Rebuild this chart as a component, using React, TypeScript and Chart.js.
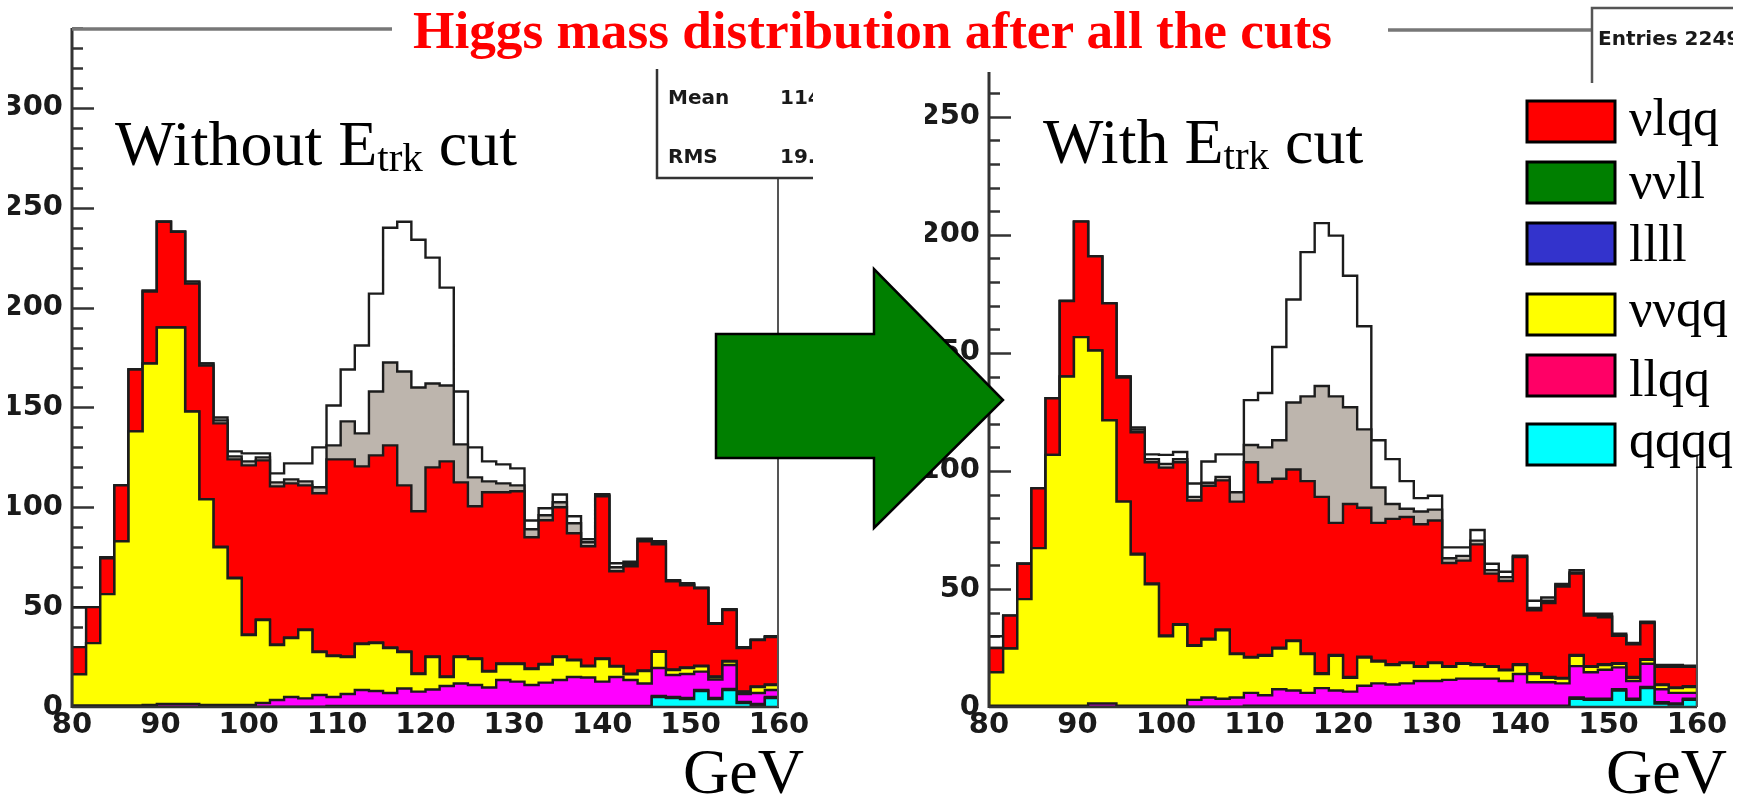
import React, { useEffect, useRef } from "react";
import { Chart, registerables } from "chart.js";
Chart.register(...registerables);

// ---------------- data ----------------
const X_MIN = 80;
const X_MAX = 160;
const BIN_WIDTH = 1.6; // 50 bins between 80 and 160 GeV
const xTickValues = [80, 90, 100, 110, 120, 130, 140, 150, 160];
const leftYTickValues = [0, 50, 100, 150, 200, 250, 300];
const rightYTickValues = [0, 50, 100, 150, 200, 250];

// Left panel: without E_trk cut (events per bin, per process)
const L_qqqq = [0,0,0,0,0,0,0,0,0,0, 0,0,0,0,0,0,0,0,0,0, 0,0,0,0,0,0,0,0,0,0, 0,0,0,0,0,0,0,0,0,0, 0,5,4.5,4,8,4,8.5,2,1,4.5];
const L_llll = [0,0,0,0,0,0,0,0,0,0, 0,0,0,0,0,0,0,0,0.5,0.5, 0.5,0.5,0.5,0.5,0.5,0.5,0.5,0.5,0.5,0.5, 0.5,0.5,0.5,0.5,0.5,0.5,0.5,0.5,0.5,0.5, 0.5,0.5,0.5,0.5,0.5,0.5,0.5,0.5,0.5,0.5];
const L_llqq = [0.8,0.8,0.8,0.8,0.8,1,1.5,1.5,1.5,1, 1,1,1,2,3.5,5,4.3,6,4.5,6, 8,7.5,6.5,8.8,7.2,8.3,10,11.3,10.5,9.3, 13,12.2,10.5,11.7,13,14.5,14.3,12.2,14.5,13, 11.3,14,11,12,9.2,9.3,12,4,5.5,3.5];
const L_vvqq = [15.6,31.2,55.7,82.2,137.2,171,188.5,188.5,146.5,103, 79,63.5,35,41.5,27.5,29.5,34.2,21.5,20.5,18.5, 23,24,22.5,18.2,8.8,16.2,4.5,13.2,13,8, 8,8.8,8,9.1,11.5,8.4,5.6,11.3,5.3,2.9, 6.2,8.1,2.5,3,2.7,1.2,1.8,1,3,2.5];
const L_vvll = [0,0,0,0,0,0,0,0,0,0, 0.3,0.3,0.3,0.3,0.3,0.3,0.3,0.3,0.3,0.3, 0.3,0.3,0.3,0.3,0.3,0.3,0.3,0.3,0.3,0.3, 0.3,0.3,0.3,0.3,0.3,0.3,0.3,0.3,0.3,0.3, 0.3,0.3,0.3,0.3,0.3,0.3,0.3,0.3,0.3,0.3];
const L_vlqq = [13.6,18,18,28,31,36,53,48,64,67, 61.7,59.2,84.7,79.7,79.2,77.2,72.2,79.2,98.2,98.7, 88.7,93.7,101.2,83.2,81.2,94.7,107.7,87.2,76.2,89.4, 85.7,86.2,65.7,71.9,74.7,63.3,59.8,81.2,47.4,53.8, 64.7,53.6,44.2,41.2,38.8,26.4,25.4,21.7,23.2,23.7];
const L_other = [0,0,0,0,0,0.5,0,0,1,1, 1.5,1.5,2,1.5,2,2,2,3,7,19, 16.5,32,41.5,57,62,42,38,19,14.5,5.5, 4.5,3,4,2.5,2.5,5,2,0.5,2,1, 1,1,0.3,0.5,0.1,0,0.2,0.2,0,0.2];
const L_signal = [20,0,0.5,0,0,0,0,0,0,0, 1.5,2.5,4,2,4.5,8,9,20,20,26, 44,49,67.5,75,74,63,49,26.5,15,10, 9.5,8.5,4.4,3.5,3.9,3.5,1.5,0.5,2,1.2, 0.3,0.5,0.2,0.5,0.1,0.3,0.3,0.3,0.3,0.3];

// Right panel: with E_trk cut
const R_qqqq = [0,0,0,0,0,0,0,0,0,0, 0,0,0,0,0,0,0,0,0,0, 0,0,0,0,0,0,0,0,0,0, 0,0,0,0,0,0,0,0,0,0, 0,3.5,3,3,7,3,8,1.5,1,3];
const R_llll = [0,0,0,0,0,0,0,0,0,0, 0,0,0,0,0,0,0,0,0.5,0.5, 0.5,0.5,0.5,0.5,0.5,0.5,0.5,0.5,0.5,0.5, 0.5,0.5,0.5,0.5,0.5,0.5,0.5,0.5,0.5,0.5, 0.5,0.5,0.5,0.5,0.5,0.5,0.5,0.5,0.5,0.5];
const R_llqq = [0.5,0.5,0.5,0.5,0.5,0.5,0.5,1.5,1.5,0.5, 0.5,0.5,0.5,0.5,3,4,3.5,4,5.5,4.5, 7,6.5,5.5,7.5,6.5,6,8.5,9.5,9,9.5, 10.5,10.5,11,11.5,11.5,11.5,10.5,13.5,10,10, 9.5,13.3,11.2,12.3,9.3,7.5,9.8,5.5,4.5,2.5];
const R_vvqq = [14.2,24.3,45.2,66.8,106.3,139.5,156.2,149.5,120,86.5, 64.1,51.5,29.5,34.3,22.9,24.6,29,18.4,14.9,16.7, 17.3,20.9,16.4,6,14.7,5.9,12,9.3,8.3,8.6, 6,7.6,5.5,6.3,5.8,5,4.5,3.8,3.5,1.9, 2,4.4,2.3,2,1.5,1.4,1.7,1.8,2,2.5];
const R_vvll = [0,0,0,0,0,0,0,0,0,0, 0.3,0.3,0.3,0.3,0.3,0.3,0.3,0.3,0.3,0.3, 0.3,0.3,0.3,0.3,0.3,0.3,0.3,0.3,0.3,0.3, 0.3,0.3,0.3,0.3,0.3,0.3,0.3,0.3,0.3,0.3, 0.3,0.3,0.3,0.3,0.3,0.3,0.3,0.3,0.3,0.3];
const R_vlqq = [10.3,13.9,15,25.3,24,32,48.9,39.9,49.5,52.6, 51.5,51.4,71.1,68.6,61.3,64.8,63.2,64.3,82.5,73.2, 71.6,72.4,73,74.7,56,73.3,63.1,58.4,61.6,61.6, 60.1,60.1,43.7,43.4,50.8,39.2,37.6,45.4,26.7,31.3, 38.7,34.5,21.4,19.9,11.6,13.9,15.3,7.4,8.7,8.2];
const R_other = [0,0,0,0,0,0,0,0,0,0.4, 1.1,1.3,1.6,1.3,1.5,1.3,1.5,4,7.3,14.8, 16.3,28.4,35.9,47,53.6,41,33.2,15,6.3,3.5, 5.4,4.6,2,2,1.6,1.5,1.6,0.3,1,1, 0.8,0.5,0.3,0.5,0.3,0.2,0.2,0.5,0.5,0.3];
const R_signal = [5,0,0,0,0,0,0,0,0,0, 0.9,2,3.8,3,5.7,9,9.5,16,19,23, 39.5,43.6,61.1,69,68.1,55.7,43.7,20,19,11.7, 5.7,5.9,4.6,3.6,4.5,2.7,2.3,0.3,3,1.4, 0.3,1,0.5,1,0.5,0.3,0.3,0.3,0.3,0.2];

const legendLabels = ["νlqq", "ννll", "llll", "ννqq", "llqq", "qqqq"];
const legendColors = ["#ff0000", "#007f00", "#3333cc", "#ffff00", "#ff0066", "#00ffff"];

// stack order from bottom to top
const stackNames = ["qqqq", "llll", "llqq", "vvqq", "vvll", "vlqq", "other", "signal"];
const stackColors = ["#00ffff", "#3333cc", "#ff00ff", "#ffff00", "#007f00", "#ff0000", "#bdb5ad", "#ffffff"];

// ---------------- chart helpers ----------------
function buildDatasets(components: number[][]) {
  const n = components[0].length;
  const cum = new Array(n).fill(0);
  return components.map((arr, k) => {
    for (let i = 0; i < n; i++) cum[i] += arr[i];
    const pts: { x: number; y: number }[] = [{ x: X_MIN, y: 0 }];
    for (let i = 0; i < n; i++) pts.push({ x: X_MIN + BIN_WIDTH * i, y: cum[i] });
    pts.push({ x: X_MAX, y: cum[n - 1] });
    pts.push({ x: X_MAX, y: 0 });
    const isSignal = stackNames[k] === "signal";
    return {
      label: stackNames[k],
      data: pts,
      stepped: true,
      fill: isSignal ? false : "origin",
      backgroundColor: stackColors[k],
      borderColor: "#1c1c1c",
      borderWidth: 2.4,
      pointRadius: 0,
      tension: 0,
    };
  });
}

function axesPlugin(yMax: number) {
  return {
    id: "rootAxes",
    beforeDatasetsDraw(chart: any) {
      const { ctx, chartArea, scales } = chart;
      const ys = scales.y;
      ctx.save();
      ctx.strokeStyle = "#333";
      ctx.lineWidth = 2.5;
      for (let v = 10; v <= yMax; v += 10) {
        const py = Math.round(ys.getPixelForValue(v)) + 0.5;
        const len = v % 50 === 0 ? 22 : 11;
        ctx.beginPath();
        ctx.moveTo(chartArea.left, py);
        ctx.lineTo(chartArea.left + len, py);
        ctx.stroke();
      }
      ctx.restore();
    },
    afterDatasetsDraw(chart: any) {
      const { ctx, chartArea } = chart;
      ctx.save();
      ctx.strokeStyle = "#333";
      ctx.lineWidth = 3;
      ctx.beginPath();
      ctx.moveTo(chartArea.left, chartArea.top);
      ctx.lineTo(chartArea.left, chartArea.bottom + 1);
      ctx.stroke();
      ctx.lineWidth = 2.5;
      ctx.beginPath();
      ctx.moveTo(chartArea.left, chartArea.bottom);
      ctx.lineTo(chartArea.right, chartArea.bottom);
      ctx.stroke();
      ctx.restore();
    },
  };
}

const tickFont = { family: "'DejaVu Sans', 'Liberation Sans', sans-serif", size: 29, weight: "bold" as const };

function makeConfig(components: number[][], yMax: number, yTicks: number[], padding: any) {
  return {
    type: "line" as const,
    data: { datasets: buildDatasets(components) },
    options: {
      responsive: false,
      animation: false as const,
      events: [],
      layout: { padding },
      plugins: { legend: { display: false }, tooltip: { enabled: false } },
      scales: {
        x: {
          type: "linear" as const,
          min: X_MIN,
          max: X_MAX,
          grid: { display: false, drawTicks: false },
          border: { display: false },
          afterBuildTicks: (s: any) => {
            s.ticks = xTickValues.map((v) => ({ value: v }));
          },
          afterFit: (s: any) => {
            s.height = 40;
          },
          ticks: {
            autoSkip: false,
            maxRotation: 0,
            padding: 1,
            color: "#1a1a1a",
            font: tickFont,
            callback: (v: any) => String(v),
          },
        },
        y: {
          type: "linear" as const,
          min: 0,
          max: yMax,
          grid: { display: false, drawTicks: false },
          border: { display: false },
          afterBuildTicks: (s: any) => {
            s.ticks = yTicks.map((v) => ({ value: v }));
          },
          afterFit: (s: any) => {
            s.width = 64;
          },
          ticks: {
            padding: 9,
            color: "#1a1a1a",
            font: tickFont,
            callback: (v: any) => String(v),
          },
        },
      },
    },
    plugins: [axesPlugin(yMax)],
  };
}

function HistoChart(props: { components: number[][]; yMax: number; yTicks: number[]; left: number; width: number; padding: any }) {
  const ref = useRef<HTMLCanvasElement | null>(null);
  useEffect(() => {
    if (!ref.current) return;
    const chart = new Chart(ref.current, makeConfig(props.components, props.yMax, props.yTicks, props.padding) as any);
    return () => chart.destroy();
  }, []);
  return (
    <canvas
      ref={ref}
      width={props.width}
      height={797}
      style={{ position: "absolute", left: props.left, top: 0, width: props.width, height: 797 }}
    />
  );
}

const serif = "'Liberation Serif', 'Times New Roman', serif";
const sans = "'DejaVu Sans', 'Liberation Sans', sans-serif";

export default function App() {
  useEffect(() => {
    document.body.style.margin = "0";
  }, []);

  const leftComponents = [L_qqqq, L_llll, L_llqq, L_vvqq, L_vvll, L_vlqq, L_other, L_signal];
  const rightComponents = [R_qqqq, R_llll, R_llqq, R_vvqq, R_vvll, R_vlqq, R_other, R_signal];

  const legendRows = [
    { top: 101, base: 135 },
    { top: 162, base: 198 },
    { top: 223, base: 261 },
    { top: 294, base: 326 },
    { top: 355, base: 396 },
    { top: 424, base: 457 },
  ];

  return (
    <div style={{ position: "fixed", left: 0, top: 0, width: 1746, height: 797, background: "#fff", overflow: "hidden" }}>
      <HistoChart
        components={leftComponents}
        yMax={340}
        yTicks={leftYTickValues}
        left={0}
        width={830}
        padding={{ left: 8, right: 51, top: 28, bottom: 50 }}
      />
      <HistoChart
        components={rightComponents}
        yMax={269}
        yTicks={rightYTickValues}
        left={900}
        width={846}
        padding={{ left: 25, right: 49, top: 72, bottom: 50 }}
      />
      <svg width={1746} height={797} style={{ position: "absolute", left: 0, top: 0, pointerEvents: "none" }}>
        <defs>
          <clipPath id="clipStatsL">
            <rect x={0} y={0} width={813} height={797} />
          </clipPath>
          <clipPath id="clipStatsR">
            <rect x={0} y={0} width={1733} height={797} />
          </clipPath>
        </defs>
        {/* frame pieces */}
        <line x1={72} y1={29} x2={392} y2={29} stroke="#777" strokeWidth={3.5} />
        <line x1={1388} y1={30} x2={1592} y2={30} stroke="#777" strokeWidth={3.5} />
        <line x1={778} y1={178} x2={778} y2={707} stroke="#555" strokeWidth={2} />
        <line x1={1697} y1={455} x2={1697} y2={707} stroke="#555" strokeWidth={2} />
        {/* stats box left */}
        <g clipPath="url(#clipStatsL)">
          <path d="M657,69 V178 H830" fill="none" stroke="#333" strokeWidth={2.5} />
          <text x={668} y={104} fontFamily={sans} fontWeight="bold" fontSize={20} fill="#1a1a1a">Mean</text>
          <text x={780} y={104} fontFamily={sans} fontWeight="bold" fontSize={20} fill="#1a1a1a">114</text>
          <text x={668} y={163} fontFamily={sans} fontWeight="bold" fontSize={20} fill="#1a1a1a">RMS</text>
          <text x={780} y={163} fontFamily={sans} fontWeight="bold" fontSize={20} fill="#1a1a1a">19.</text>
        </g>
        {/* stats box right */}
        <g clipPath="url(#clipStatsR)">
          <path d="M1592,83 V8 H1746" fill="none" stroke="#555" strokeWidth={2.5} />
          <text x={1598} y={45} fontFamily={sans} fontWeight="bold" fontSize={20} fill="#1a1a1a">Entries 2249</text>
        </g>
        {/* title */}
        <text x={413} y={48} fontFamily={serif} fontWeight="bold" fontSize={52} fill="#ff0000" textLength={919} lengthAdjust="spacingAndGlyphs">
          Higgs mass distribution after all the cuts
        </text>
        {/* panel labels */}
        <text x={115} y={165} fontFamily={serif} fontSize={64} fill="#000">
          Without E<tspan fontSize={41} dy={6}>trk</tspan><tspan dy={-6}> cut</tspan>
        </text>
        <text x={1043} y={163} fontFamily={serif} fontSize={64} fill="#000">
          With E<tspan fontSize={41} dy={6}>trk</tspan><tspan dy={-6}> cut</tspan>
        </text>
        <text x={683} y={793} fontFamily={serif} fontSize={64} fill="#000">GeV</text>
        <text x={1606} y={793} fontFamily={serif} fontSize={64} fill="#000">GeV</text>
        {/* arrow */}
        <polygon
          points="716,334 874,334 874,269 1003,400 874,528 874,458 716,458"
          fill="#007f00"
          stroke="#000"
          strokeWidth={2.5}
          strokeLinejoin="miter"
        />
        {/* legend */}
        {legendLabels.map((lab, i) => (
          <g key={lab}>
            <rect x={1527} y={legendRows[i].top} width={88} height={41} fill={legendColors[i]} stroke="#000" strokeWidth={3} />
            <text x={1629} y={legendRows[i].base} fontFamily={serif} fontSize={52} fill="#000">{lab}</text>
          </g>
        ))}
      </svg>
    </div>
  );
}
